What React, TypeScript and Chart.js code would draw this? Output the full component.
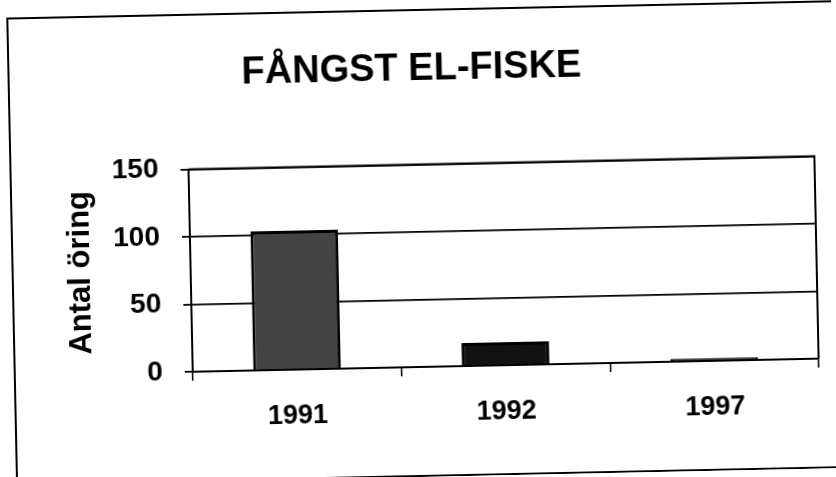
import React, { useEffect, useRef } from "react";
import { Chart, registerables } from "chart.js";

Chart.register(...registerables);

const titleText = "FÅNGST EL-FISKE";
const yAxisTitle = "Antal öring";
const categories = ["1991", "1992", "1997"];
const catchValues = [103, 17, 2];
const yTicks = [0, 50, 100, 150];

const framePlugin = {
  id: "frame",
  afterDraw(chart: any) {
    const { ctx, chartArea } = chart;
    ctx.save();
    ctx.strokeStyle = "#000";
    ctx.lineWidth = 2;
    ctx.beginPath();
    ctx.moveTo(chartArea.left, chartArea.top);
    ctx.lineTo(chartArea.right, chartArea.top);
    ctx.lineTo(chartArea.right, chartArea.bottom);
    ctx.stroke();
    ctx.lineWidth = 2;
    ctx.beginPath();
    ctx.moveTo(840, 10);
    ctx.lineTo(12, 10);
    ctx.lineTo(12, 480);
    ctx.moveTo(12, 476);
    ctx.lineTo(840, 476);
    ctx.stroke();
    ctx.restore();
  },
};

export default function App() {
  const ref = useRef<HTMLCanvasElement | null>(null);
  useEffect(() => {
    if (!ref.current) return;
    const chart = new Chart(ref.current, {
      type: "bar",
      data: {
        labels: categories,
        datasets: [
          {
            label: yAxisTitle,
            data: catchValues,
            backgroundColor: ["#444444", "#111111", "#111111"],
            borderColor: "#000",
            borderWidth: 3,
            categoryPercentage: 1,
            barPercentage: 0.42,
          },
        ],
      },
      options: {
        responsive: false,
        animation: false,
        layout: { padding: { left: 14, right: 20, top: 0, bottom: 0 } },
        plugins: {
          legend: { display: false },
          tooltip: { enabled: false },
          title: {
            display: true,
            text: titleText,
            color: "#000",
            font: { family: "'Liberation Sans', Arial, sans-serif", size: 38, weight: "bold" },
            padding: { top: 47, bottom: 72 },
          },
        },
        scales: {
          x: {
            afterFit(scale: any) {
              scale.height = 110;
            },
            grid: {
              display: true,
              offset: true,
              drawOnChartArea: false,
              drawTicks: true,
              tickLength: 9,
              color: "#000",
              lineWidth: 1.5,
            },
            border: { display: true, color: "#000", width: 2 },
            ticks: {
              color: "#000",
              padding: 21,
              maxRotation: 0,
              font: { family: "'Liberation Sans', Arial, sans-serif", size: 27, weight: "bold" },
            },
          },
          y: {
            min: 0,
            max: 150,
            afterFit(scale: any) {
              scale.width = 176;
            },
            afterBuildTicks(scale: any) {
              scale.ticks = yTicks.map((v) => ({ value: v }));
            },
            grid: {
              color: "#000",
              lineWidth: 1.8,
              tickLength: 8,
            },
            border: { display: true, color: "#000", width: 2 },
            ticks: {
              color: "#000",
              padding: 22,
              stepSize: 50,
              font: { family: "'Liberation Sans', Arial, sans-serif", size: 28, weight: "bold" },
            },
            title: {
              display: true,
              text: yAxisTitle,
              color: "#000",
              padding: { top: 48, bottom: 0 },
              font: { family: "'Liberation Sans', Arial, sans-serif", size: 31, weight: "bold" },
            },
          },
        },
      },
      plugins: [framePlugin],
    });
    return () => chart.destroy();
  }, []);
  return (
    <div style={{ position: "absolute", left: 0, top: 0, width: 836, height: 477, overflow: "hidden", background: "#fff" }}>
      <canvas
        ref={ref}
        width={836}
        height={477}
        style={{ display: "block", width: 836, height: 477, transform: "rotate(-1.2deg)", transformOrigin: "50% 50%" }}
      />
    </div>
  );
}
